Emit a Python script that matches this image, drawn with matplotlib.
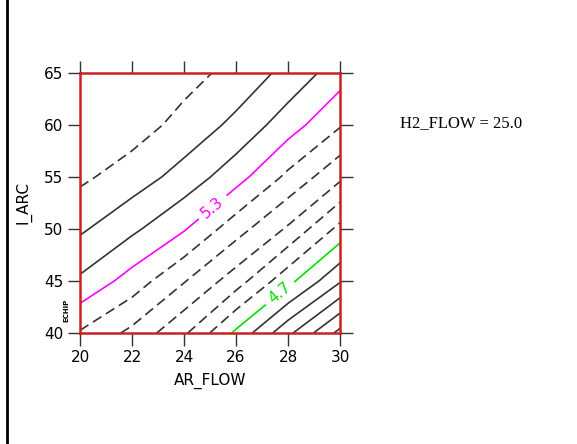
import matplotlib
matplotlib.use("Agg")
import matplotlib.pyplot as plt
import numpy as np
from matplotlib.lines import Line2D

# grid (response at H2_FLOW = 25.0)
ar_flow = [20, 22, 24, 26, 28, 30]
i_arc = [40, 45, 50, 55, 60, 65]
response = [
    [5.19, 5.075, 4.917, 4.68, 4.425, 4.17],
    [5.383, 5.257, 5.107, 4.948, 4.732, 4.51],
    [5.516, 5.421, 5.309, 5.142, 4.986, 4.77],
    [5.62, 5.552, 5.461, 5.341, 5.177, 5.022],
    [5.665, 5.647, 5.567, 5.475, 5.347, 5.209],
    [5.695, 5.67, 5.637, 5.568, 5.47, 5.347],
]
levels = [4.2, 4.3, 4.4, 4.5, 4.6, 4.8, 4.9, 5.0, 5.1, 5.2, 5.4, 5.5, 5.6]
dashed_levels = [4.8, 4.9, 5.0, 5.1, 5.2, 5.6]
# labelled contours: level, colour, where the label sits
labelled = [4.7, 5.3]
label_colors = ["#00e000", "#ff00ff"]
label_spots = [(27.6, 44.1), (25.1, 52.1)]
fixed_text = "H2_FLOW = 25.0"

line_col = "#333333"
styles = ["dashed" if lv in dashed_levels else "solid" for lv in levels]

plt.rcParams["lines.dashed_pattern"] = [6.0, 3.2]

fig = plt.figure(figsize=(5.77, 4.44), dpi=100)
ax = fig.add_axes([80 / 577, 111 / 444, 260 / 577, 260 / 444])

X, Y = np.meshgrid(ar_flow, i_arc)
Z = np.array(response)
ax.contour(X, Y, Z, levels=levels, colors=line_col, linestyles=styles,
           linewidths=1.2)
for lv, c, spot in zip(labelled, label_colors, label_spots):
    cs = ax.contour(X, Y, Z, levels=[lv], colors=c, linewidths=1.2)
    ax.clabel(cs, manual=[spot], fmt="%.1f", fontsize=11, inline=True,
              inline_spacing=6)

ax.set_xlim(20, 30)
ax.set_ylim(40, 65)
ax.set_xticks(np.arange(20, 31, 2))
ax.set_yticks(np.arange(40, 66, 5))
ax.tick_params(axis="both", which="both", direction="out", length=9, width=1,
               color=line_col, labelsize=11, top=True, right=True, pad=3)
for s in ax.spines.values():
    s.set_color("#cc2020")
    s.set_linewidth(1.8)

ax.set_xlabel("AR_FLOW", fontsize=11, labelpad=6)
ax.set_ylabel("I_ARC", fontsize=11, labelpad=9)
fig.text(66 / 577, 1 - 310 / 444, "ECHIP", fontsize=5, fontweight="bold",
         rotation=90, ha="center", va="center")
fig.text(400 / 577, 1 - 123 / 444, fixed_text, fontsize=12,
         family="Liberation Serif", ha="left", va="center")

fig.add_artist(Line2D([7 / 577, 7 / 577], [0, 1], color="black", linewidth=2))

fig.savefig("out.png", dpi=100)
